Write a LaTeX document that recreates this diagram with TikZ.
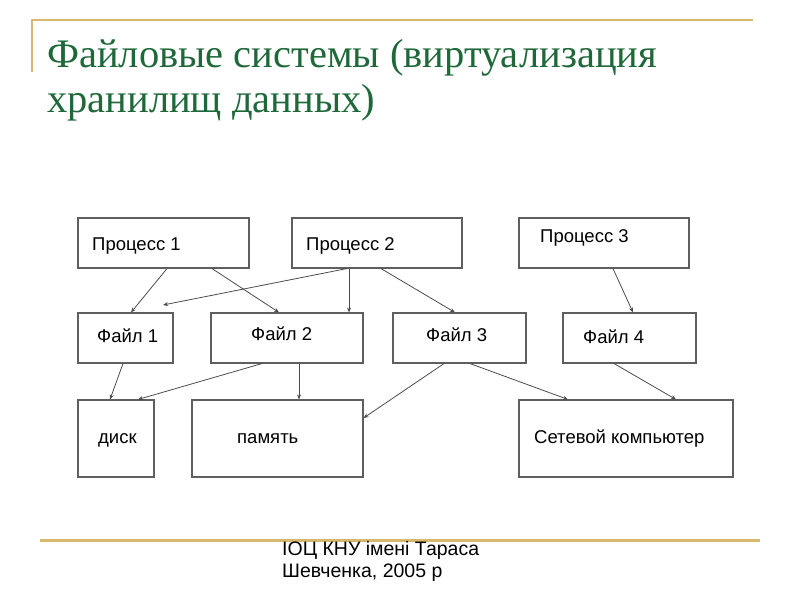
\documentclass[tikz,border=0pt]{standalone}
\usepackage{fontspec}
\setmainfont{Liberation Serif}
\setsansfont{Liberation Sans}
\usetikzlibrary{arrows, arrows.meta}
\definecolor{titlegreen}{RGB}{31,104,57}
\definecolor{rulegold}{RGB}{215,185,110}
\definecolor{boxgray}{RGB}{95,95,95}

\begin{document}
\begin{tikzpicture}[x=1pt, y=-1pt,
    box/.style={draw=boxgray, line width=1.1pt, inner sep=0pt, minimum height=50pt},
    lbl/.style={anchor=base west, inner sep=0pt, font=\sffamily\fontsize{18.5}{22}\selectfont},
    arr/.style={draw=black!70, line width=0.8pt, -{Stealth[length=5pt, width=4pt]}}]
      \useasboundingbox (0,0) rectangle (800,600);

      % rules and title
      \draw[rulegold, line width=2pt] (32,72) -- (32,20) -- (753,20);
      \draw[rulegold, line width=3pt] (40,540) -- (760,540);
      \node[anchor=base west, inner sep=0pt, text=titlegreen, font=\fontsize{40.5}{45}\selectfont] (title1) at (47,67) {Файловые системы (виртуализация};
      \node[anchor=base west, inner sep=0pt, text=titlegreen, font=\fontsize{40.5}{45}\selectfont] (title2) at (47,112) {хранилищ данных)};
      \node[anchor=base west, inner sep=0pt, align=left, font=\sffamily\fontsize{19.5}{22}\selectfont] (foot) at (282,577) {ІОЦ КНУ імені Тараса\\Шевченка, 2005 р};

      % processes
      \node[box, minimum width=171pt] (p1) at (163.5,243) {};
      \node[box, minimum width=170pt] (p2) at (377,243) {};
      \node[box, minimum width=170pt] (p3) at (604,243) {};
      \node[lbl] (tp1) at (92,250) {Процесс 1};
      \node[lbl] (tp2) at (306,250) {Процесс 2};
      \node[lbl] (tp3) at (540,242) {Процесс 3};

      % files
      \node[box, minimum width=95pt] (f1) at (125.5,338) {};
      \node[box, minimum width=152pt] (f2) at (287,338) {};
      \node[box, minimum width=133pt] (f3) at (459.5,338) {};
      \node[box, minimum width=133pt] (f4) at (629.5,338) {};
      \node[lbl] (tf1) at (97,342) {Файл 1};
      \node[lbl] (tf2) at (251,340) {Файл 2};
      \node[lbl] (tf3) at (426,341) {Файл 3};
      \node[lbl] (tf4) at (583,343) {Файл 4};

      % storage
      \node[box, minimum width=76pt, minimum height=77pt] (disk) at (116,438.5) {};
      \node[box, minimum width=171pt, minimum height=77pt] (mem) at (277.5,438.5) {};
      \node[box, minimum width=214pt, minimum height=77pt] (net) at (626,438.5) {};
      \node[lbl] (tdisk) at (98,443) {диск};
      \node[lbl] (tmem) at (237,443) {память};
      \node[lbl] (tnet) at (534,443) {Сетевой компьютер};

      \coordinate (loose) at (163,305);

      \draw[arr] ([xshift=3.5]p1.south) -- ([xshift=5.5]f1.north);
      \draw[arr] ([xshift=48.5]p1.south) -- ([xshift=-8]f2.north);
      \draw[arr] ([xshift=-30]p2.south) -- (loose);
      \draw[arr] ([xshift=-28]p2.south) -- ([xshift=62]f2.north);
      \draw[arr] ([xshift=4]p2.south) -- ([xshift=-4.5]f3.north);
      \draw[arr] ([xshift=9]p3.south) -- ([xshift=3.5]f4.north);
      \draw[arr] ([xshift=-2.5]f1.south) -- ([xshift=-6]disk.north);
      \draw[arr] ([xshift=-25]f2.south) -- ([xshift=22]disk.north);
      \draw[arr] ([xshift=12]f2.south) -- ([xshift=21.5]mem.north);
      \draw[arr] ([xshift=-15.5]f3.south) -- ([yshift=20.5]mem.east);
      \draw[arr] ([xshift=10.5]f3.south) -- ([xshift=-58]net.north);
      \draw[arr] ([xshift=-15.5]f4.south) -- ([xshift=50]net.north);
\end{tikzpicture}
\end{document}
